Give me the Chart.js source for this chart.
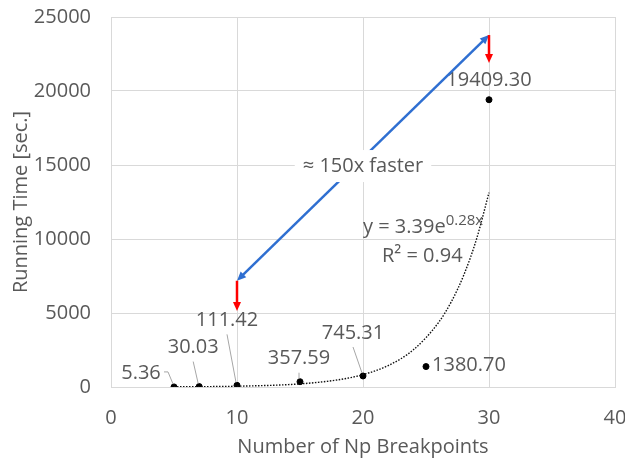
<!DOCTYPE html>
<html>
<head>
<meta charset="utf-8">
<script src="https://cdn.jsdelivr.net/npm/chart.js@4.4.1/dist/chart.umd.min.js"></script>
<style>
  html, body { margin: 0; padding: 0; background: #fff; }
  #wrap { width: 625px; height: 459px; }
</style>
</head>
<body>
<div id="wrap"><canvas id="grafico" width="625" height="459"></canvas></div>
<script>
// dados
const breakpoints = [5, 7, 10, 15, 20, 25, 30];
const runningTimes = [5.36, 30.03, 111.42, 357.59, 745.31, 1380.70, 19409.30];
const pointLabels = ['5.36', '30.03', '111.42', '357.59', '745.31', '1380.70', '19409.30'];

const trendX = [5, 10, 15, 18, 20, 22, 24, 26, 27, 28, 29, 30];
const trendY = [13, 53, 211, 482, 836, 1450, 2516, 4364, 5746, 7568, 9967, 13130];

const xTicks = [0, 10, 20, 30, 40];
const yTicks = [0, 5000, 10000, 15000, 20000, 25000];

// anotações (coordenadas em unidades dos eixos)
const speedArrow = { x1: 10, y1: 7180, x2: 30, y2: 23780 };
const dropArrows = [
  { x: 30, y1: 23780, y2: 21890 },
  { x: 10, y1: 7180, y2: 5130 }
];
const speedText = { x: 20, y: 14930, text: '≈ 150x faster' };
const eqText = { x: 20, y: 10400 };

// deslocamento dos rótulos em pixels [dx, dy, temLinha]
const labelOffsets = [
  [-33, -14, true],
  [-6, -39, true],
  [-10, -65, true],
  [-1, -23, true],
  [-10, -43, true],
  [43, -1, false],
  [0, -19, false]
];

const FONTE = '"Open Sans", sans-serif';
const CINZA = '#595959';

function seta(ctx, x1, y1, x2, y2, cor, largura, duasPontas) {
  ctx.save();
  ctx.strokeStyle = cor;
  ctx.fillStyle = cor;
  ctx.lineWidth = largura;
  const ang = Math.atan2(y2 - y1, x2 - x1);
  const tam = 9, meia = 4;
  const ex = x2 - Math.cos(ang) * tam * 0.8, ey = y2 - Math.sin(ang) * tam * 0.8;
  let sx = x1, sy = y1;
  if (duasPontas) {
    sx = x1 + Math.cos(ang) * tam * 0.8;
    sy = y1 + Math.sin(ang) * tam * 0.8;
  }
  ctx.beginPath();
  ctx.moveTo(sx, sy);
  ctx.lineTo(ex, ey);
  ctx.stroke();
  function ponta(px, py, a) {
    ctx.beginPath();
    ctx.moveTo(px, py);
    ctx.lineTo(px - Math.cos(a) * tam + Math.sin(a) * meia, py - Math.sin(a) * tam - Math.cos(a) * meia);
    ctx.lineTo(px - Math.cos(a) * tam - Math.sin(a) * meia, py - Math.sin(a) * tam + Math.cos(a) * meia);
    ctx.closePath();
    ctx.fill();
  }
  ponta(x2, y2, ang);
  if (duasPontas) ponta(x1, y1, ang + Math.PI);
  ctx.restore();
}

const anotacoes = {
  id: 'anotacoes',
  afterDatasetsDraw(chart) {
    const ctx = chart.ctx;
    const xs = chart.scales.x, ys = chart.scales.y;

    // rótulos dos pontos
    ctx.save();
    ctx.font = '20px ' + FONTE;
    ctx.fillStyle = CINZA;
    ctx.textAlign = 'center';
    ctx.textBaseline = 'middle';
    breakpoints.forEach((b, i) => {
      const px = xs.getPixelForValue(b);
      const py = ys.getPixelForValue(runningTimes[i]);
      const [dx, dy, linha] = labelOffsets[i];
      const tx = px + dx, ty = py + dy;
      ctx.fillText(pointLabels[i], tx, ty);
      if (linha) {
        ctx.strokeStyle = '#a6a6a6';
        ctx.lineWidth = 1;
        ctx.beginPath();
        if (i === 0) {
          ctx.moveTo(tx + 23, ty - 1);
          ctx.lineTo(tx + 27, ty - 1);
        } else {
          ctx.moveTo(tx, ty + 14);
        }
        ctx.lineTo(px - 1, py - 3);
        ctx.stroke();
      }
    });
    ctx.restore();

    // setas
    seta(ctx, xs.getPixelForValue(speedArrow.x1), ys.getPixelForValue(speedArrow.y1),
      xs.getPixelForValue(speedArrow.x2), ys.getPixelForValue(speedArrow.y2), '#2F6FD1', 2.5, true);
    dropArrows.forEach(a => {
      const px = xs.getPixelForValue(a.x);
      seta(ctx, px, ys.getPixelForValue(a.y1), px, ys.getPixelForValue(a.y2), '#FF0000', 2.5, false);
    });

    // texto "≈ 150x faster" com fundo branco
    ctx.save();
    ctx.font = '20px ' + FONTE;
    const sx = xs.getPixelForValue(speedText.x), sy = ys.getPixelForValue(speedText.y);
    const w = ctx.measureText(speedText.text).width;
    ctx.fillStyle = '#fff';
    ctx.fillRect(sx - w / 2 - 8, sy - 16, w + 16, 32);
    ctx.fillStyle = CINZA;
    ctx.textAlign = 'center';
    ctx.textBaseline = 'middle';
    ctx.fillText(speedText.text, sx, sy);
    ctx.restore();

    // equação da tendência
    ctx.save();
    ctx.fillStyle = CINZA;
    ctx.textBaseline = 'alphabetic';
    const ex = xs.getPixelForValue(eqText.x), ey = ys.getPixelForValue(eqText.y);
    ctx.font = '20px ' + FONTE;
    const base = 'y = 3.39e';
    ctx.fillText(base, ex, ey);
    const bw = ctx.measureText(base).width;
    ctx.font = '15px ' + FONTE;
    ctx.fillText('0.28x', ex + bw, ey - 8);
    ctx.font = '20px ' + FONTE;
    ctx.fillText('R² = 0.94', ex + 19, ey + 29);
    ctx.restore();
  }
};

const ctx = document.getElementById('grafico').getContext('2d');
new Chart(ctx, {
  type: 'scatter',
  data: {
    datasets: [
      {
        label: 'Tendência',
        data: trendX.map((x, i) => ({ x: x, y: trendY[i] })),
        showLine: true,
        borderColor: '#111',
        borderWidth: 1.4,
        borderDash: [1.5, 1.5],
        pointRadius: 0,
        tension: 0.4,
        cubicInterpolationMode: 'monotone',
        fill: false
      },
      {
        label: 'Running Time',
        data: breakpoints.map((x, i) => ({ x: x, y: runningTimes[i] })),
        backgroundColor: '#000',
        borderColor: '#000',
        pointRadius: 3,
        pointHoverRadius: 3
      }
    ]
  },
  options: {
    responsive: false,
    animation: false,
    events: [],
    layout: { padding: { top: 17, right: 10, left: 0, bottom: 0 } },
    plugins: { legend: { display: false }, tooltip: { enabled: false } },
    scales: {
      x: {
        type: 'linear',
        min: 0,
        max: 40,
        afterBuildTicks: s => { s.ticks = xTicks.map(v => ({ value: v })); },
        afterFit: s => { s.height = 72; s.paddingLeft = 0; s.paddingRight = 0; },
        ticks: {
          color: CINZA,
          font: { family: FONTE, size: 20 },
          padding: 19,
          maxRotation: 0,
          callback: v => String(v)
        },
        grid: { color: '#d9d9d9', lineWidth: 1, drawTicks: false },
        border: { color: '#d9d9d9' },
        title: {
          display: true,
          text: 'Number of Np Breakpoints',
          color: CINZA,
          font: { family: FONTE, size: 20 },
          padding: { top: 1, bottom: 0 }
        }
      },
      y: {
        type: 'linear',
        min: 0,
        max: 25000,
        afterBuildTicks: s => { s.ticks = yTicks.map(v => ({ value: v })); },
        afterFit: s => { s.width = 111; s.paddingTop = 0; s.paddingBottom = 0; },
        ticks: {
          color: CINZA,
          font: { family: FONTE, size: 20 },
          padding: 20,
          callback: v => String(v)
        },
        grid: { color: '#d9d9d9', lineWidth: 1, drawTicks: false },
        border: { color: '#d9d9d9' },
        title: {
          display: true,
          text: 'Running Time [sec.]',
          color: CINZA,
          font: { family: FONTE, size: 20 },
          padding: { top: 9, bottom: 0 }
        }
      }
    }
  },
  plugins: [anotacoes]
});
</script>
</body>
</html>
